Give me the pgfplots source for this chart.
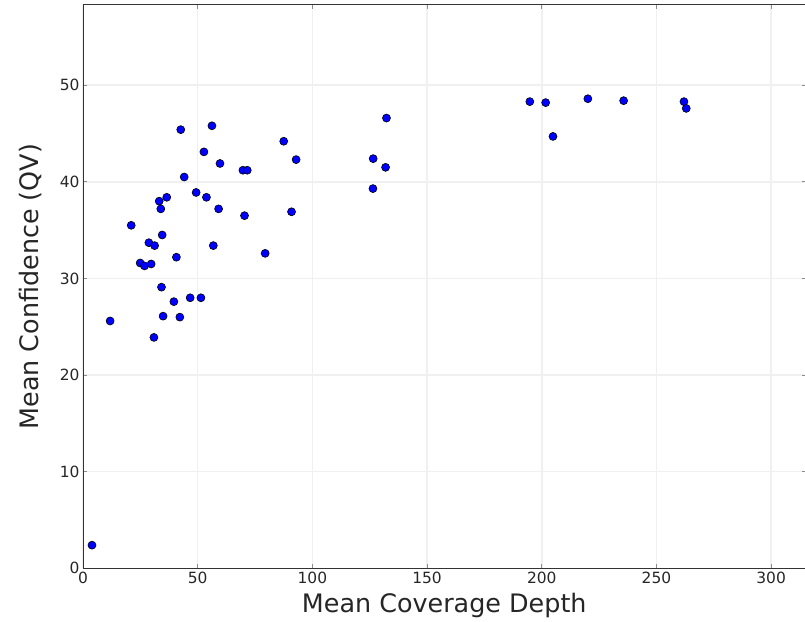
\documentclass[border=0pt]{standalone}
\usepackage{pgfplots}
\pgfplotsset{compat=1.18}
\usepackage{fontspec}
\setmainfont{DejaVu Sans}
\begin{document}
\begin{tikzpicture}
\begin{axis}[
  scale only axis, width=722bp, height=563bp,
  xmin=0, xmax=315, ymin=0, ymax=58.3,
  xtick={0,50,...,300}, ytick={0,10,...,50},
  grid=major, major grid style={line width=1.5bp, color=black!6},
  tick align=inside, major tick length=4bp,
  tick style={black!45, line width=1bp},
  axis line style={line width=1bp, black!80},
  tick label style={font=\fontsize{15.5}{16}\selectfont, text=black!85},
  /pgf/number format/assume math mode=true,
  xlabel={Mean Coverage Depth}, ylabel={Mean Confidence (QV)},
  label style={font=\fontsize{25.5}{26}\selectfont, text=black!85},
  xlabel style={at={(axis description cs:0.5,-0.0657)}, anchor=center},
  ylabel style={at={(axis description cs:-0.0734,0.5)}, anchor=center},
]
\addplot[only marks, mark=*, mark size=4bp, mark options={fill=blue, draw=black, line width=0.6bp}] coordinates {
(3.9,2.4) (11.8,25.6) (21.0,35.5) (24.9,31.6) (26.8,31.3) (28.7,33.7)
(29.7,31.5) (30.9,23.9) (31.2,33.4) (33.2,38.0) (33.9,37.2) (34.2,29.1)
(34.5,34.5) (34.9,26.1) (36.5,38.4) (39.6,27.6) (40.7,32.2) (42.2,26.0)
(42.6,45.4) (44.1,40.5) (46.7,28.0) (49.3,38.9) (51.4,28.0) (52.7,43.1)
(53.8,38.4) (56.2,45.8) (56.8,33.4) (59.1,37.2) (59.7,41.9) (69.7,41.2)
(71.6,41.2) (70.4,36.5) (79.4,32.6) (87.5,44.2) (90.9,36.9) (92.9,42.3)
(126.4,39.3) (126.5,42.4) (131.9,41.5) (132.3,46.6) (194.8,48.3) (201.7,48.2)
(204.9,44.7) (220.1,48.6) (235.7,48.4) (262.0,48.3) (263.0,47.6)
};
\end{axis}
\pgfresetboundingbox
\path[use as bounding box] ([xshift=-83bp,yshift=-53bp]current axis.south west) rectangle ([xshift=-0.5bp,yshift=5bp]current axis.north east);
\end{tikzpicture}
\end{document}
